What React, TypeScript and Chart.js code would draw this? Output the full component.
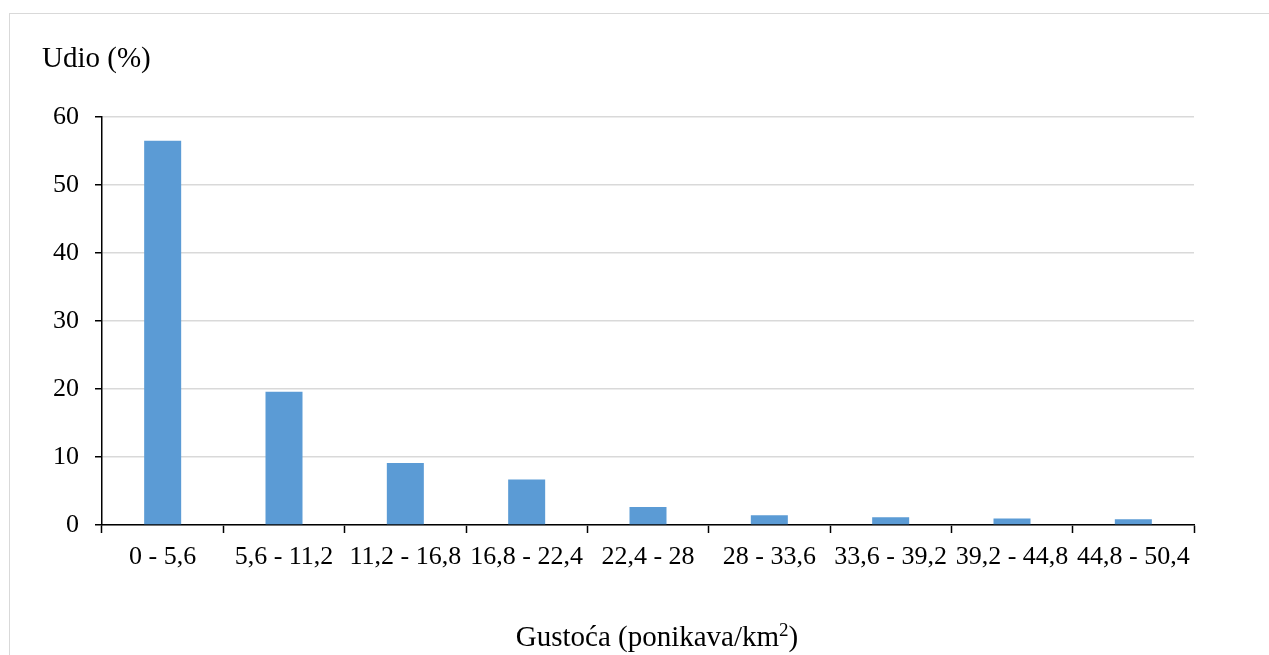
import React, { useEffect, useRef } from "react";
import { Chart, registerables } from "chart.js";

Chart.register(...registerables);

const categories = [
  "0 - 5,6",
  "5,6 - 11,2",
  "11,2 - 16,8",
  "16,8 - 22,4",
  "22,4 - 28",
  "28 - 33,6",
  "33,6 - 39,2",
  "39,2 - 44,8",
  "44,8 - 50,4",
];
const shares = [56.5, 19.6, 9.1, 6.7, 2.65, 1.45, 1.15, 0.95, 0.85];
const yTitle = "Udio (%)";
const xTitleMain = "Gustoća (ponikava/km";
const xTitleSup = "2";
const xTitleEnd = ")";

const FONT = "'Liberation Serif', 'Times New Roman', serif";

const titlesPlugin = {
  id: "titles",
  afterDraw(chart: any) {
    const ctx = chart.ctx;
    const area = chart.chartArea;
    ctx.save();
    ctx.fillStyle = "#000";
    ctx.font = `29px ${FONT}`;
    ctx.textBaseline = "alphabetic";
    ctx.textAlign = "left";
    ctx.fillText(yTitle, 32, 53);

    // x title with superscript
    const base = 632;
    const mainFont = `29px ${FONT}`;
    const supFont = `19px ${FONT}`;
    ctx.font = mainFont;
    const w1 = ctx.measureText(xTitleMain).width;
    const w3 = ctx.measureText(xTitleEnd).width;
    ctx.font = supFont;
    const w2 = ctx.measureText(xTitleSup).width;
    const total = w1 + w2 + w3;
    const cx = (area.left + area.right) / 2 + 9;
    let x = cx - total / 2;
    ctx.font = mainFont;
    ctx.fillText(xTitleMain, x, base);
    x += w1;
    ctx.font = supFont;
    ctx.fillText(xTitleSup, x, base - 10);
    x += w2;
    ctx.font = mainFont;
    ctx.fillText(xTitleEnd, x, base);
    ctx.restore();
  },
};

export default function App() {
  const ref = useRef<HTMLCanvasElement | null>(null);
  useEffect(() => {
    if (!ref.current) return;
    const chart = new Chart(ref.current, {
      type: "bar",
      data: {
        labels: categories,
        datasets: [
          {
            data: shares,
            backgroundColor: "#5B9BD5",
            borderWidth: 0,
            barPercentage: 0.305,
            categoryPercentage: 1,
          },
        ],
      },
      options: {
        animation: false,
        responsive: false,
        maintainAspectRatio: false,
        layout: { padding: { left: 0, right: 75, top: 103, bottom: 0 } },
        plugins: {
          legend: { display: false },
          tooltip: { enabled: false },
        },
        scales: {
          x: {
            offset: true,
            grid: {
              offset: true,
              drawOnChartArea: false,
              drawTicks: true,
              tickColor: "#000",
              tickLength: 8,
              tickWidth: 1.5,
            },
            border: { color: "#000", width: 1.5 },
            ticks: {
              color: "#000",
              font: { family: FONT, size: 26 },
              padding: 9,
              maxRotation: 0,
              autoSkip: false,
            },
            afterFit(scale: any) {
              scale.height = 130;
            },
          },
          y: {
            min: 0,
            max: 60,
            ticks: {
              stepSize: 10,
              color: "#000",
              font: { family: FONT, size: 26 },
              padding: 16,
            },
            grid: {
              color: "#d9d9d9",
              lineWidth: 1.5,
              tickColor: "#000",
              tickLength: 7,
              tickWidth: 1.5,
            },
            border: { color: "#000", width: 1.5 },
            afterFit(scale: any) {
              scale.width = 92;
            },
          },
        },
      },
      plugins: [titlesPlugin],
    });
    return () => chart.destroy();
  }, []);

  return (
    <div
      style={{
        position: "fixed",
        left: 9,
        top: 13,
        width: 1300,
        height: 700,
        border: "1px solid #d9d9d9",
        background: "#fff",
      }}
    >
      <canvas ref={ref} width={1259} height={641} style={{ display: "block" }} />
    </div>
  );
}
